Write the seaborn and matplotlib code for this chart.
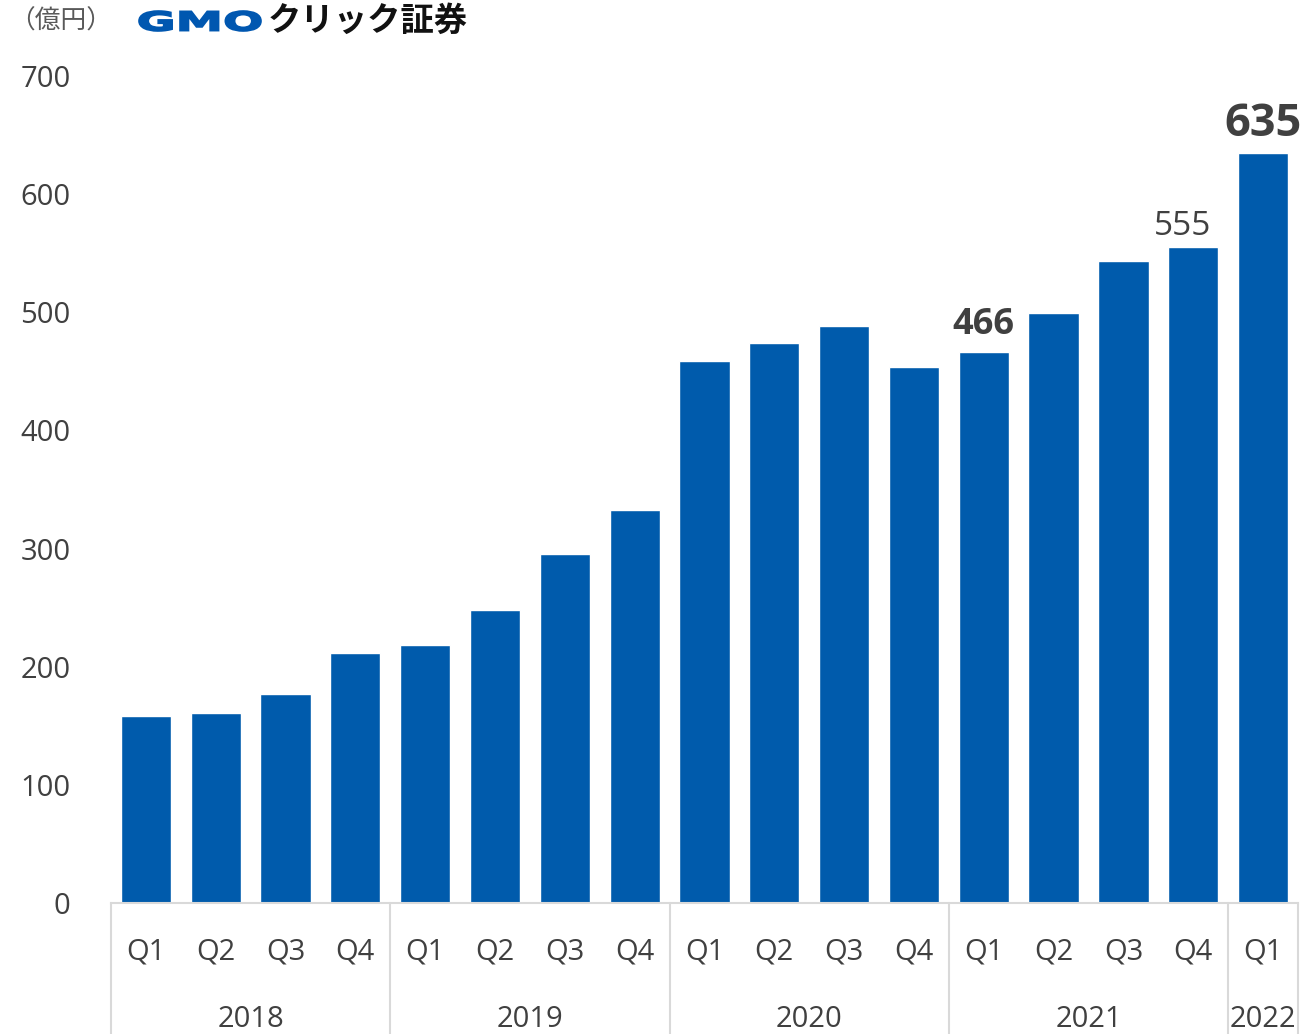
import matplotlib.pyplot as plt
import matplotlib.transforms as mtransforms
from matplotlib.textpath import TextPath
from matplotlib.patches import PathPatch
from matplotlib.font_manager import FontProperties
import pandas as pd
import seaborn as sns

# data
years = ['2018', '2019', '2020', '2021', '2022']
quarters = ['Q1', 'Q2', 'Q3', 'Q4'] * 4 + ['Q1']
year_of_bar = ['2018'] * 4 + ['2019'] * 4 + ['2020'] * 4 + ['2021'] * 4 + ['2022']
values = [158, 161, 177, 212, 218, 248, 295, 333, 459, 474, 488, 454, 466, 499, 543, 555, 635]

df = pd.DataFrame({'period': [y + q for y, q in zip(year_of_bar, quarters)],
                   'value': values})

sns.set_style('white')
plt.rcParams['font.family'] = ['Open Sans', 'Noto Sans CJK JP', 'DejaVu Sans']
txt = '#404040'

fig = plt.figure(figsize=(13.04, 10.34), dpi=100)
ax = fig.add_axes([0.0851, 0.1267, 0.9103, 0.7998])
sns.barplot(data=df, x='period', y='value', color='#005BAC', saturation=1,
            width=0.72, ax=ax)
ax.set_xlim(-0.5, len(values) - 0.5)
ax.set_ylim(0, 700)
ax.set_yticks(range(0, 701, 100))
ax.tick_params(axis='y', labelsize=21, labelcolor=txt, length=0, pad=29)
ax.set_xticks(range(len(values)))
ax.set_xticklabels(quarters)
ax.tick_params(axis='x', labelsize=21, labelcolor=txt, length=0, pad=25)
ax.set_xlabel('')
ax.set_ylabel('')
for s in ['top', 'right', 'left']:
    ax.spines[s].set_visible(False)
ax.spines['bottom'].set_color('#d9d9d9')
ax.spines['bottom'].set_linewidth(1.5)

# year group separators and labels
trans = mtransforms.blended_transform_factory(ax.transData, ax.transAxes)
bounds = [-0.5, 3.5, 7.5, 11.5, 15.5, 16.5]
for b in bounds:
    ax.plot([b, b], [0, -0.16], color='#d9d9d9', lw=1.5, transform=trans, clip_on=False)
for i, y in enumerate(years):
    ax.text((bounds[i] + bounds[i + 1]) / 2, -0.141, y, transform=trans,
            ha='center', va='center', fontsize=21, color=txt)

# value labels
ax.text(12, 466 + 8, '466', ha='center', va='bottom', fontsize=26, fontweight='bold', color=txt)
ax.text(14.85, 555 + 4, '555', ha='center', va='bottom', fontsize=24, color=txt)
ax.text(16, 635 + 5, '635', ha='center', va='bottom', fontsize=32.5, fontweight='bold', color=txt)

# header
fig.text(0.007, 0.979, '（億円）', ha='left', va='center', fontsize=18.5, color='#595959',
         family=['Noto Sans CJK JP'])

# stretched "GMO" wordmark fitted to its box in pixels
tp = TextPath((0, 0), 'GMO', size=40, prop=FontProperties(family='DejaVu Sans', weight='bold'))
ext = tp.get_extents()
x0, y0, x1, y1 = 139, 1003, 261, 1023
tr = (mtransforms.Affine2D().translate(-ext.x0, -ext.y0)
      .scale((x1 - x0) / ext.width, (y1 - y0) / ext.height).translate(x0, y0))
fig.add_artist(PathPatch(tr.transform_path(tp), transform=mtransforms.IdentityTransform(),
                         facecolor='#0057B0', edgecolor='#0057B0', lw=1.2))
fig.text(0.2055, 0.979, 'クリック証券', ha='left', va='center', fontsize=24,
         fontweight='bold', color='#111111', family=['Noto Sans CJK JP'])

fig.savefig('out.png', dpi=100)
